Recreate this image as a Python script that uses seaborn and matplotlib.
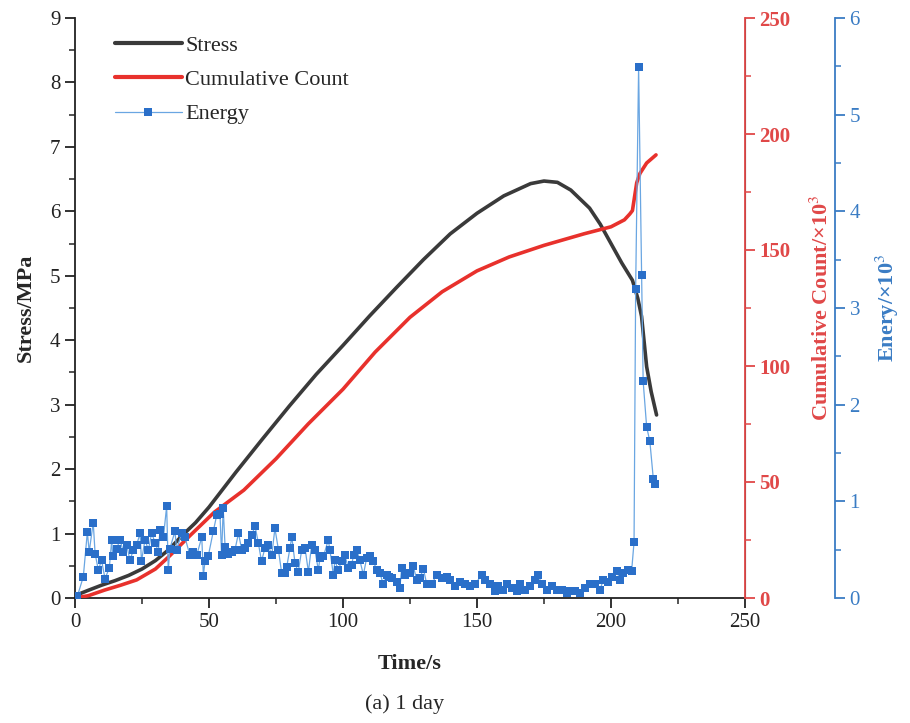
import matplotlib
matplotlib.use("Agg")
import matplotlib.pyplot as plt
from matplotlib.ticker import MultipleLocator
from matplotlib.lines import Line2D
import seaborn as sns
import pandas as pd

# ---------------- data ----------------
t_stress = [0, 2, 5, 10, 15, 20, 25, 30, 35, 40, 45, 50, 55, 60, 70, 80, 90, 100,
            110, 120, 130, 140, 150, 160, 170, 175, 180, 185, 192, 196, 200, 204,
            208, 210, 211.4, 213.3, 215, 217]
stress = [0, 0.07, 0.12, 0.2, 0.27, 0.35, 0.45, 0.58, 0.75, 0.97, 1.17, 1.41, 1.68,
          1.95, 2.47, 2.98, 3.47, 3.92, 4.38, 4.82, 5.25, 5.65, 5.97, 6.24, 6.43,
          6.47, 6.45, 6.33, 6.05, 5.8, 5.5, 5.2, 4.93, 4.65, 4.37, 3.59, 3.2, 2.84]

t_count = [0, 5, 11, 17, 23, 30, 35, 43, 52, 63, 75, 87, 100, 112, 125, 137, 150,
           162, 175, 190, 200, 205, 207, 208, 209.6, 210.8, 213.3, 216.8]
count = [0, 1, 3.4, 5.5, 7.8, 12.5, 17.8, 27, 37, 46.5, 60, 75, 90, 106, 121, 132,
         141, 147, 152, 157, 160, 163, 165.5, 167, 179, 183, 187.5, 191]

t_energy = [0.9, 3.1, 4.6, 5.3, 6.8, 7.5, 8.7, 9.9, 11.2, 12.8, 13.7, 14.1, 15.5,
            16.8, 18.0, 19.3, 20.5, 21.8, 23.0, 24.3, 24.8, 26.1, 27.4, 28.6, 29.9,
            31.1, 31.7, 33.0, 34.2, 34.8, 35.4, 37.3, 37.9, 39.8, 41.0, 42.9, 44.2,
            45.4, 47.3, 47.9, 48.5, 49.7, 51.6, 52.9, 54.1, 54.7, 55.3, 56.0, 57.2,
            58.5, 59.7, 61.0, 62.2, 63.5, 64.7, 65.9, 67.2, 68.4, 69.6, 70.9, 72.1,
            73.4, 74.6, 75.9, 77.1, 78.3, 79.0, 80.2, 80.9, 82.1, 83.3, 84.6, 85.8,
            87.1, 88.3, 89.5, 90.8, 91.4, 92.7, 94.5, 95.1, 96.4, 97.0, 98.2, 99.5,
            100.7, 102.0, 103.2, 104.0, 105.1, 106.3, 107.6, 108.8, 110.1, 111.3,
            112.6, 113.8, 115.0, 116.3, 117.2, 118.2, 120.0, 121.2, 121.9, 123.1,
            125.0, 126.2, 127.5, 128.7, 130.0, 131.2, 133.1, 134.9, 136.8, 138.7,
            139.9, 141.8, 143.6, 145.5, 147.4, 149.3, 151.7, 152.9, 154.8, 156.7,
            157.9, 159.8, 161.1, 162.9, 164.8, 166.0, 167.9, 169.8, 171.6, 172.9,
            174.1, 176.0, 177.9, 179.7, 181.6, 183.5, 184.7, 186.6, 188.4, 190.3,
            192.2, 194.0, 195.9, 197.1, 199.0, 200.2, 202.1, 203.4, 204.6, 206.5,
            207.7, 208.6, 209.2, 210.3, 211.4, 212.0, 213.3, 214.5, 215.8, 216.5]
energy = [0.02, 0.22, 0.68, 0.48, 0.78, 0.46, 0.29, 0.39, 0.20, 0.31, 0.60, 0.43,
          0.51, 0.60, 0.48, 0.55, 0.39, 0.50, 0.55, 0.67, 0.38, 0.60, 0.50, 0.67,
          0.57, 0.48, 0.70, 0.63, 0.95, 0.29, 0.51, 0.69, 0.50, 0.67, 0.63, 0.44,
          0.48, 0.44, 0.63, 0.23, 0.38, 0.43, 0.69, 0.86, 0.87, 0.44, 0.93, 0.53,
          0.46, 0.48, 0.50, 0.67, 0.50, 0.52, 0.57, 0.65, 0.74, 0.57, 0.38, 0.52,
          0.55, 0.44, 0.72, 0.50, 0.26, 0.26, 0.32, 0.52, 0.63, 0.36, 0.27, 0.50,
          0.52, 0.27, 0.55, 0.50, 0.29, 0.41, 0.43, 0.60, 0.50, 0.24, 0.39, 0.29,
          0.38, 0.44, 0.31, 0.34, 0.45, 0.50, 0.39, 0.24, 0.41, 0.43, 0.38, 0.29,
          0.26, 0.14, 0.24, 0.22, 0.21, 0.17, 0.10, 0.31, 0.24, 0.26, 0.33, 0.19,
          0.21, 0.30, 0.15, 0.14, 0.24, 0.21, 0.22, 0.19, 0.12, 0.17, 0.14, 0.12,
          0.14, 0.24, 0.19, 0.14, 0.07, 0.12, 0.08, 0.14, 0.10, 0.07, 0.14, 0.08,
          0.12, 0.19, 0.24, 0.14, 0.08, 0.12, 0.08, 0.08, 0.05, 0.07, 0.07, 0.05,
          0.10, 0.15, 0.14, 0.08, 0.19, 0.17, 0.22, 0.28, 0.19, 0.26, 0.29, 0.28,
          0.58, 3.20, 5.49, 3.34, 2.24, 1.77, 1.62, 1.23, 1.18]

x_ticks = [0, 50, 100, 150, 200, 250]
caption = "(a) 1 day"

# ---------------- style ----------------
sns.set_style("ticks")
plt.rcParams["font.family"] = ["Liberation Serif", "DejaVu Serif"]
plt.rcParams["mathtext.fontset"] = "stix"

BLACK = "#3a3a3a"
RED = "#e8312c"
BLUE = "#2a6fc9"
BLUE_LINE = "#6aa6e2"
AX_RED = "#e04848"
AX_BLUE = "#3a7cc4"

fig = plt.figure(figsize=(9.10, 7.23), dpi=100)
ax = fig.add_axes([75 / 910, 1 - 598 / 723, 670 / 910, 580 / 723])
ax2 = ax.twinx()
ax3 = ax.twinx()
ax3.spines["right"].set_position(("outward", 90 * 72 / 100))

df_s = pd.DataFrame({"t": t_stress, "v": stress})
df_c = pd.DataFrame({"t": t_count, "v": count})
df_e = pd.DataFrame({"t": t_energy, "v": energy})

sns.lineplot(data=df_s, x="t", y="v", ax=ax, color=BLACK, lw=2.6, sort=False)
sns.lineplot(data=df_c, x="t", y="v", ax=ax2, color=RED, lw=2.6, sort=False)
sns.lineplot(data=df_e, x="t", y="v", ax=ax3, color=BLUE_LINE, lw=0.9, sort=False,
             marker="s", markersize=5.5, markerfacecolor=BLUE, markeredgecolor=BLUE,
             markeredgewidth=0)

ax.set_xlim(0, 250)
ax.set_ylim(0, 9)
ax2.set_ylim(0, 250)
ax3.set_ylim(0, 6)
ax.set_xticks(x_ticks)
ax.xaxis.set_minor_locator(MultipleLocator(25))
ax.yaxis.set_major_locator(MultipleLocator(1))
ax.yaxis.set_minor_locator(MultipleLocator(0.5))
ax2.yaxis.set_major_locator(MultipleLocator(50))
ax2.yaxis.set_minor_locator(MultipleLocator(25))
ax3.yaxis.set_major_locator(MultipleLocator(1))
ax3.yaxis.set_minor_locator(MultipleLocator(0.5))

for a in (ax, ax2, ax3):
    a.tick_params(which="major", direction="out", length=7, width=1.3, labelsize=15)
    a.tick_params(which="minor", direction="out", length=4, width=1.1)

for a in (ax, ax2, ax3):
    a.spines["top"].set_visible(False)
ax.spines["left"].set_linewidth(1.3)
ax.spines["bottom"].set_linewidth(1.3)
ax.spines["left"].set_color("#222222")
ax.spines["bottom"].set_color("#222222")
ax2.spines["right"].set_color(AX_RED)
ax2.spines["right"].set_linewidth(1.3)
ax3.spines["right"].set_color(AX_BLUE)
ax3.spines["right"].set_linewidth(1.3)
for a in (ax2, ax3):
    a.spines["left"].set_visible(False)
    a.spines["bottom"].set_visible(False)

ax.tick_params(axis="both", colors="#222222")
ax2.tick_params(axis="y", which="both", colors=AX_RED, labelcolor=AX_RED)
ax3.tick_params(axis="y", which="both", colors=AX_BLUE, labelcolor=AX_BLUE)
for lbl in ax2.get_yticklabels():
    lbl.set_fontweight("bold")

ax.set_xlabel("Time/s", fontsize=16, fontweight="bold", labelpad=16)
ax.set_ylabel("Stress/MPa", fontsize=16, fontweight="bold", labelpad=10)
ax2.set_ylabel("Cumulative Count/×10$^3$", fontsize=16, fontweight="bold",
               color=AX_RED, labelpad=14)
ax3.set_ylabel("Enery/×10$^3$", fontsize=16, fontweight="bold", color=AX_BLUE,
               labelpad=10)

handles = [
    Line2D([], [], color=BLACK, lw=3),
    Line2D([], [], color=RED, lw=3),
    Line2D([], [], color=BLUE_LINE, lw=0.9, marker="s", markersize=5.5,
           markerfacecolor=BLUE, markeredgewidth=0),
]
ax3.legend(handles, ["Stress", "Cumulative Count", "Energy"], loc="upper left",
           bbox_to_anchor=(0.03, 1.005), frameon=False, fontsize=16,
           handlelength=3.0, handletextpad=0.15, labelspacing=0.62)

fig.text(0.445, 0.012, caption, fontsize=16, ha="center", va="bottom")

fig.savefig("out.png", dpi=100)
